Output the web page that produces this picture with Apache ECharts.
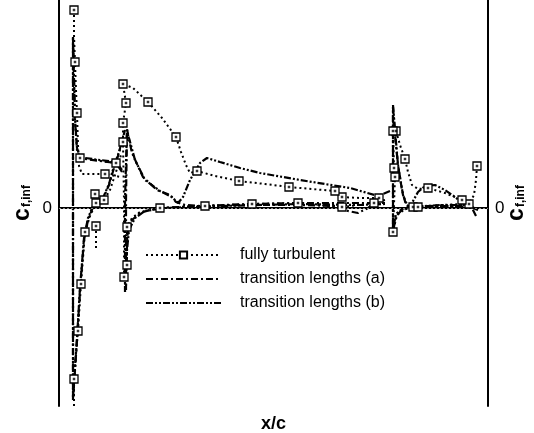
<!DOCTYPE html>
<html>
<head>
<meta charset="utf-8">
<script src="https://cdn.jsdelivr.net/npm/echarts@6/dist/echarts.min.js"></script>
<style>
  html, body { margin: 0; padding: 0; background: #fff; }
  #chart { width: 534px; height: 433px; }
</style>
</head>
<body>
<div id="chart"></div>
<script>
// Skin friction c_f,inf (x 10^3) along x/c for slat, main element and flap.
// Each point: [x/c, cf*1000, marker flag]
const turbulentSlatUpper = [[0.0375,19.8,1],[0.0375,17.3],[0.04,14.6,1],[0.0425,11.8],[0.045,9.5,1],[0.0475,6.3],[0.05,4.2],[0.0575,3.4],[0.115,3.4,1],[0.155,3.1]];
const turbulentSlatCove = [[0.0525,5.0,1],[0.1425,4.5,1]];
const turbulentSlatLower = [[0.0375,-19.8],[0.0375,-17.1,1],[0.0475,-12.3,1],[0.055,-7.6,1],[0.065,-2.4,1],[0.0775,-0.8],[0.0925,0.5,1],[0.1125,0.8,1],[0.1275,1.8],[0.1425,3.6],[0.155,5.3]];
const turbulentSlatSpike = [[0.0925,-1.8,1],[0.0925,-4.0]];
const turbulentSlatPoint = [[0.09,1.4,1]];
const turbulentMain = [[0.8,1.0,1],[0.7525,1.0],[0.7075,1.1,1],[0.69,1.7,1],[0.575,2.1,1],[0.515,2.4],[0.45,2.7,1],[0.39,3.2],[0.345,3.7,1],[0.3275,3.5],[0.3175,4.3],[0.305,5.6],[0.2925,7.1,1],[0.2575,9.0],[0.2225,10.6,1],[0.185,12.0],[0.16,12.4,1],[0.1675,10.5,1],[0.16,8.5,1],[0.16,6.6,1],[0.1625,0.8],[0.1625,-6.9,1],[0.17,-5.7,1],[0.17,-1.9,1],[0.1825,-1.0],[0.2025,-0.4],[0.2525,0.0,1],[0.365,0.2,1],[0.4825,0.4,1],[0.5975,0.5,1],[0.7075,0.1,1],[0.7875,0.5,1],[0.8025,0.6]];
const turbulentFlap = [[1.045,4.2,1],[1.0425,2.8],[1.0375,1.3],[1.025,0.4,1],[1.0075,0.8,1],[0.965,1.5],[0.9225,2.0,1],[0.8975,1.9],[0.8825,2.3],[0.8725,3.6],[0.865,4.9,1],[0.8525,6.3],[0.8425,7.7,1],[0.835,8.6],[0.835,7.7,1],[0.8375,4.0,1],[0.84,3.1,1],[0.835,-2.4,1],[0.845,-0.7],[0.865,-0.1],[0.885,0.1,1],[0.8975,0.1,1],[0.9525,0.3],[1.0025,0.4],[1.0275,0.3]];

const transASlat = [[0.1575,3.6],[0.1425,4.5],[0.1025,4.7],[0.065,4.9],[0.0525,5.0],[0.045,5.8],[0.04,8.8],[0.0375,12.8],[0.035,17.1],[0.035,8.8],[0.035,-9.2],[0.035,-19.2],[0.0375,-17.7],[0.045,-13.2],[0.0525,-8.2],[0.0625,-3.2],[0.0725,-1.2],[0.085,0.1],[0.11,0.9],[0.125,2.3],[0.1375,4.0],[0.15,5.5],[0.16,7.0]];
const transAMain = [[0.815,0.8],[0.79,0.6],[0.7725,0.0],[0.7475,-0.5],[0.7225,-0.3],[0.6975,0.2],[0.6025,0.3],[0.4775,0.3],[0.3525,0.2],[0.315,0.3],[0.2925,0.6],[0.2775,1.3],[0.245,1.8],[0.21,3.1],[0.1825,5.5],[0.1725,7.3],[0.17,8.0],[0.1675,0.8],[0.1675,-8.2],[0.17,-3.7],[0.1725,-2.0],[0.1825,-1.2],[0.2025,-0.5],[0.2275,-0.2],[0.2525,0.0],[0.3525,0.2],[0.4775,0.4],[0.6025,0.5],[0.7275,0.5],[0.815,0.5]];
const transAFlap = [[1.0475,-0.2],[1.0275,0.1],[0.9775,0.2],[0.9275,0.2],[0.8825,0.1],[0.8675,0.3],[0.8575,1.8],[0.8475,4.3],[0.84,7.3],[0.835,10.1],[0.835,-2.4],[0.8425,-0.8],[0.8575,-0.2],[0.8775,0.0],[0.9525,0.2],[1.0275,0.2],[1.0475,-0.2]];

const transBSlat = [[0.1575,3.8],[0.1425,4.6],[0.1025,4.8],[0.065,5.0],[0.0525,5.1],[0.045,6.0],[0.04,9.0],[0.0375,13.0],[0.035,17.0],[0.035,8.8],[0.035,-9.2],[0.035,-19.0],[0.0375,-17.5],[0.045,-13.0],[0.0525,-8.0],[0.0625,-3.0],[0.0725,-1.0],[0.085,0.2],[0.11,1.0],[0.125,2.4],[0.1375,4.2],[0.15,5.6],[0.165,7.8]];
const transBMain = [[0.8275,1.7],[0.7975,1.2],[0.7275,2.0],[0.6025,2.8],[0.5025,3.5],[0.4525,4.0],[0.4025,4.6],[0.37,5.0],[0.3525,4.5],[0.3275,2.8],[0.31,1.1],[0.2975,0.5],[0.2825,1.1],[0.2525,1.7],[0.215,2.8],[0.19,4.8],[0.175,7.0],[0.17,7.8],[0.165,0.8],[0.165,-8.4],[0.17,-4.2],[0.175,-2.2],[0.19,-1.0],[0.215,-0.3],[0.265,0.0],[0.4025,0.2],[0.6025,0.4],[0.7525,0.3],[0.815,0.4]];
const transBFlap = [[1.0425,-0.8],[1.0325,0.0],[1.015,0.3],[0.99,1.1],[0.965,1.8],[0.94,2.3],[0.915,2.2],[0.8975,1.6],[0.8825,0.5],[0.8725,0.1],[0.86,1.3],[0.8475,4.3],[0.84,7.8],[0.835,10.3],[0.835,-2.2],[0.8425,-0.6],[0.8575,-0.1],[0.8775,0.1],[0.9525,0.3],[1.0275,0.3]];

const NAME_FT = 'fully turbulent';
const NAME_A = 'transition lengths (a)';
const NAME_B = 'transition lengths (b)';
const X_MIN = 0, X_MAX = 1.0725;
const Y_MIN = -19.8, Y_MAX = 20.8;

const FONT = '"Liberation Sans", Arial, sans-serif';

const turbulentSegments = [turbulentSlatUpper, turbulentSlatCove, turbulentSlatLower, turbulentSlatSpike, turbulentSlatPoint, turbulentMain, turbulentFlap];
const transASegments = [transASlat, transAMain, transAFlap];
const transBSegments = [transBSlat, transBMain, transBFlap];

function turbulentSeries(pts) {
  return {
    name: NAME_FT, type: 'line', z: 5,
    data: pts.map(p => p[2] ? { value: [p[0], p[1]] } : { value: [p[0], p[1]], symbol: 'none' }),
    symbol: 'rect', symbolSize: 8,
    itemStyle: { color: '#fff', borderColor: '#000', borderWidth: 1.3 },
    lineStyle: { color: '#000', width: 2, type: [2, 3] },
    emphasis: { disabled: true }
  };
}
function transSeries(name, pts, dash) {
  return {
    name, type: 'line', z: 3,
    data: pts.map(p => [p[0], p[1]]),
    symbol: 'none',
    itemStyle: { color: '#000' },
    lineStyle: { color: '#000', width: 2.2, type: dash },
    emphasis: { disabled: true }
  };
}

const series = [];
turbulentSegments.forEach(s => series.push(turbulentSeries(s)));
transASegments.forEach(s => series.push(transSeries(NAME_A, s, [7, 3, 2, 3])));
transBSegments.forEach(s => series.push(transSeries(NAME_B, s, [7, 2, 2, 2, 2, 2])));

// centre dots of the turbulent-run markers
const dotData = [];
turbulentSegments.forEach(s => s.forEach(p => { if (p[2]) dotData.push([p[0], p[1]]); }));
series.push({
  name: 'markerDots', type: 'scatter', z: 6, silent: true,
  data: dotData, symbol: 'rect', symbolSize: 2.5,
  itemStyle: { color: '#000' }
});

// zero reference line
series[0].markLine = {
  silent: true, symbol: 'none', label: { show: false },
  lineStyle: { color: '#888', width: 1, type: [2, 2] },
  data: [{ yAxis: 0 }]
};

const yName = '{c|c}{s|f,inf}';
const yNameStyle = {
  rich: {
    c: { fontSize: 23, fontWeight: 'bold', fontFamily: FONT, color: '#000', verticalAlign: 'top', lineHeight: 22 },
    s: { fontSize: 12, fontWeight: 'bold', fontFamily: FONT, color: '#000', verticalAlign: 'bottom', lineHeight: 12, padding: [13, 0, 0, 1] }
  }
};

function yAxisDef(pos, gap) {
  return {
    type: 'value', position: pos, min: Y_MIN, max: Y_MAX,
    name: yName, nameLocation: 'middle', nameRotate: 90, nameGap: gap,
    nameMoveOverlap: false,
    nameTextStyle: yNameStyle,
    axisLine: { show: true, lineStyle: { color: '#000', width: 2 } },
    axisTick: { show: true, inside: true, length: 9, lineStyle: { color: '#000', width: 2 }, customValues: [0] },
    axisLabel: { show: true, customValues: [0], margin: 7, fontSize: 17, fontFamily: FONT, color: '#000', formatter: () => '0' },
    splitLine: { show: false }
  };
}

const noSymbol = { color: 'rgba(0,0,0,0)', borderWidth: 0 };

const chart = echarts.init(document.getElementById('chart'), null, { renderer: 'canvas' });
chart.setOption({
  animation: false,
  backgroundColor: '#fff',
  grid: { left: 59, right: 46, top: 0, bottom: 27, containLabel: false, outerBoundsMode: 'none' },
  xAxis: {
    type: 'value', min: X_MIN, max: X_MAX,
    name: 'x/c', nameLocation: 'middle', nameGap: 9,
    nameTextStyle: { fontSize: 18, fontWeight: 'bold', fontFamily: FONT, color: '#000' },
    axisLine: { show: true, lineStyle: { color: '#000', width: 2 } },
    axisTick: { show: false }, axisLabel: { show: false }, splitLine: { show: false }
  },
  yAxis: [yAxisDef('left', 26), yAxisDef('right', 17)],
  legend: {
    data: [
      { name: NAME_FT },
      { name: NAME_A, itemStyle: noSymbol },
      { name: NAME_B, itemStyle: noSymbol }
    ],
    orient: 'vertical', left: 145, top: 247, padding: 0,
    itemWidth: 75, itemHeight: 9, itemGap: 8,
    selectedMode: false,
    textStyle: { fontSize: 16, fontFamily: FONT, color: '#000', padding: [0, 0, 0, 14] }
  },
  series
});
</script>
</body>
</html>
